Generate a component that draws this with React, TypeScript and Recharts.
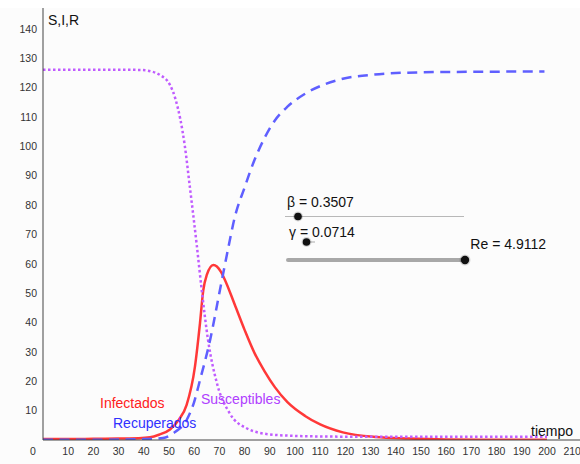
import React from "react";
import { LineChart, Line, XAxis, YAxis } from "recharts";

// Susceptibles (S)
const sTimes = [0, 10, 20, 30, 38.5, 43, 46.4, 50.4, 52.6, 56.3, 58.3, 61, 63, 65.5, 69, 74, 80.8, 90, 100, 110, 130, 150, 175, 200];
const sValues = [126.1, 126.1, 126.1, 126.1, 126.0, 125.5, 124.3, 120.9, 116, 100, 86, 66.5, 51, 34, 19.4, 9.2, 4.0, 1.9, 1.4, 1.2, 1.1, 1.1, 1.1, 1.1];

// Infectados (I)
const iTimes = [0, 10, 20, 30, 38, 42.5, 46, 50.4, 54, 57, 60.3, 62.3, 63.6, 65, 67.6, 69, 70.5, 72.2, 76, 80, 84, 88, 92, 97, 104, 110, 119, 132, 145, 160, 180, 200];
const iValues = [0.3, 0.3, 0.4, 0.5, 0.6, 0.9, 1.8, 3.6, 7, 12, 25, 39.8, 51, 56.2, 59.6, 59.1, 57.4, 54.5, 46.3, 37.5, 29.5, 23.3, 18, 12.9, 8.2, 5.3, 2.6, 1.0, 0.5, 0.2, 0.1, 0.1];

// Recuperados (R)
const rTimes = [0, 20, 40, 47.6, 52, 57, 60, 62.3, 66.3, 70.2, 73.5, 76, 80, 84, 88, 92, 97, 104, 112, 118, 131, 150, 175, 199];
const rValues = [0.1, 0.1, 0.3, 0.7, 2.5, 6.8, 13, 20.4, 34, 51, 65.3, 75.5, 86, 95.5, 103, 108.8, 113.5, 117.9, 121.2, 122.8, 124.4, 125.2, 125.4, 125.5];

const xTicks = [0, 10, 20, 30, 40, 50, 60, 70, 80, 90, 100, 110, 120, 130, 140, 150, 160, 170, 180, 190, 200, 210];
const yTicks = [10, 20, 30, 40, 50, 60, 70, 80, 90, 100, 110, 120, 130, 140];

const sData = sTimes.map((t, i) => ({ t, v: sValues[i] }));
const iData = iTimes.map((t, i) => ({ t, v: iValues[i] }));
const rData = rTimes.map((t, i) => ({ t, v: rValues[i] }));

const FONT = '"Liberation Sans", Arial, sans-serif';
const TICK_COLOR = "#333";

const XTick = (props: any) => {
  const { x, y, payload } = props;
  const dx = payload.value === 0 ? -10 : 0;
  return (
    <text x={x + dx} y={y} dy="0.71em" textAnchor="middle" fill={TICK_COLOR} fontSize={10.5} fontFamily={FONT}>
      {payload.value}
    </text>
  );
};

const YTick = (props: any) => {
  const { x, y, payload } = props;
  return (
    <text x={x} y={y} dy="0.355em" textAnchor="end" fill={TICK_COLOR} fontSize={10.5} fontFamily={FONT}>
      {payload.value}
    </text>
  );
};

export default function App() {
  return (
    <div
      style={{
        position: "absolute",
        left: 0,
        top: 0,
        width: 580,
        height: 464,
        background: "linear-gradient(#ffffff 0px, #ffffff 8px, #fcfcfc 8px)",
        fontFamily: FONT,
      }}
    >
      <LineChart width={580} height={464} margin={{ top: 8, right: 0, left: 0, bottom: 0 }}>
        <XAxis
          type="number"
          dataKey="t"
          domain={[0, 213.1]}
          ticks={xTicks}
          allowDataOverflow
          height={24}
          tickLine={false}
          tickSize={6}
          tickMargin={2}
          axisLine={{ stroke: "#444", strokeWidth: 1 }}
          tick={<XTick />}
          interval={0}
        />
        <YAxis
          type="number"
          dataKey="v"
          domain={[0, 147.1]}
          ticks={yTicks}
          allowDataOverflow
          width={43}
          tickLine={false}
          tickSize={4}
          tickMargin={2}
          axisLine={{ stroke: "#444", strokeWidth: 1 }}
          tick={<YTick />}
          interval={0}
        />
        <Line
          data={iData}
          dataKey="v"
          type="monotone"
          stroke="#ff3838"
          strokeWidth={2.5}
          dot={false}
          activeDot={false}
          isAnimationActive={false}
        />
        <Line
          data={sData}
          dataKey="v"
          type="monotone"
          stroke="#c05cff"
          strokeWidth={2.5}
          strokeDasharray="2.5 2.5"
          dot={false}
          activeDot={false}
          isAnimationActive={false}
        />
        <Line
          data={rData}
          dataKey="v"
          type="monotone"
          stroke="#5f5fff"
          strokeWidth={2.5}
          strokeDasharray="10 6.5"
          dot={false}
          activeDot={false}
          isAnimationActive={false}
        />
      </LineChart>
      <svg
        width={580}
        height={464}
        style={{ position: "absolute", left: 0, top: 0, pointerEvents: "none" }}
        fontFamily={FONT}
      >
        <text x={48} y={25} fontSize={14} fill="#111">S,I,R</text>
        <text x={531} y={436} fontSize={14} fill="#111">tiempo</text>
        <text x={100} y={408} fontSize={14} fill="#ff2020">Infectados</text>
        <text x={113} y={428} fontSize={14} fill="#3030ff">Recuperados</text>
        <text x={201} y={404} fontSize={14} fill="#b040ff">Susceptibles</text>

        <text x={287} y={207} fontSize={14} fill="#111">β = 0.3507</text>
        <line x1={285} y1={216.5} x2={464} y2={216.5} stroke="#b8b8b8" strokeWidth={1.2} />
        <circle cx={298} cy={216.5} r={5} fill="rgba(0,0,0,0.15)" />
        <circle cx={298} cy={216.5} r={3.8} fill="#111" />

        <text x={289} y={237} fontSize={14} fill="#111">γ = 0.0714</text>
        <line x1={306.5} y1={242} x2={315} y2={242} stroke="#b8b8b8" strokeWidth={1.2} />
        <circle cx={306.5} cy={242} r={5} fill="rgba(0,0,0,0.15)" />
        <circle cx={306.5} cy={242} r={3.8} fill="#111" />

        <text x={546} y={249} fontSize={14} fill="#111" textAnchor="end">Re = 4.9112</text>
        <line x1={288} y1={260} x2={465} y2={260} stroke="#a8a8a8" strokeWidth={4} strokeLinecap="round" />
        <circle cx={465} cy={260} r={5.5} fill="rgba(0,0,0,0.15)" />
        <circle cx={465} cy={260} r={4.2} fill="#111" />
      </svg>
    </div>
  );
}
